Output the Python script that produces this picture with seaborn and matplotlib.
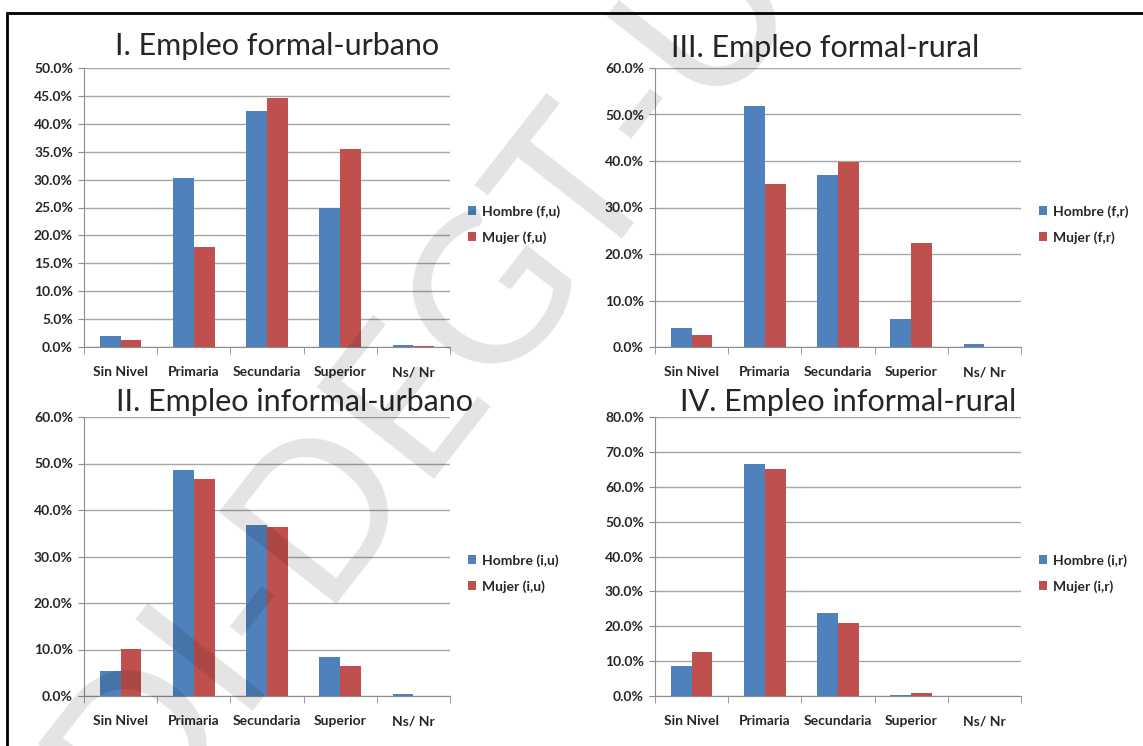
import matplotlib
matplotlib.use("Agg")
import matplotlib.pyplot as plt
import seaborn as sns
import pandas as pd
from matplotlib.patches import Rectangle
from matplotlib.ticker import FuncFormatter, FixedLocator

sns.set_style("white")
plt.rcParams['font.family'] = ['Lato', 'DejaVu Sans']
plt.rcParams['font.weight'] = 'bold'

niveles = ['Sin Nivel', 'Primaria', 'Secundaria', 'Superior', 'Ns/ Nr']

# I. formal-urbano
hombre_fu = [1.9, 30.2, 42.3, 25.0, 0.3]
mujer_fu = [1.2, 18.0, 44.7, 35.5, 0.2]
# III. formal-rural
hombre_fr = [4.1, 51.8, 37.0, 6.1, 0.6]
mujer_fr = [2.6, 35.0, 39.8, 22.3, 0.0]
# II. informal-urbano
hombre_iu = [5.3, 48.7, 36.8, 8.3, 0.4]
mujer_iu = [10.1, 46.6, 36.3, 6.5, 0.1]
# IV. informal-rural
hombre_ir = [8.5, 66.5, 23.7, 0.3, 0.0]
mujer_ir = [12.7, 65.0, 20.8, 1.0, 0.0]

azul = '#4F81BD'
rojo = '#C0504D'

W, H = 1143, 746
fig = plt.figure(figsize=(W / 100, H / 100), dpi=100)

# marco negro
fig.patches.append(Rectangle((7 / W, -0.01), 1.02, (H - 13) / H + 0.01,
                             transform=fig.transFigure, fill=False,
                             edgecolor='black', linewidth=2))

# titulo, hombre, mujer, sufijo, ymax, paso, x0, y0, titulo_x, titulo_pad
paneles = [
    ('I. Empleo formal-urbano', hombre_fu, mujer_fu, '(f,u)', 50, 5, 84, 68, 0.527, 9),
    ('III. Empleo formal-rural', hombre_fr, mujer_fr, '(f,r)', 60, 10, 655, 68, 0.464, 8),
    ('II. Empleo informal-urbano', hombre_iu, mujer_iu, '(i,u)', 60, 10, 84, 417, 0.574, 4),
    ('IV. Empleo informal-rural', hombre_ir, mujer_ir, '(i,r)', 80, 10, 655, 417, 0.527, 4),
]

for titulo, h, m, suf, ymax, paso, x0, y0, tx, tpad in paneles:
    ax = fig.add_axes([x0 / W, (H - y0 - 279) / H, 366 / W, 279 / H])
    df = pd.DataFrame({
        'nivel': niveles * 2,
        'valor': h + m,
        'sexo': ['Hombre ' + suf] * 5 + ['Mujer ' + suf] * 5,
    })
    sns.barplot(data=df, x='nivel', y='valor', hue='sexo', ax=ax,
                palette=[azul, rojo], width=0.57, saturation=1,
                linewidth=0, zorder=3)
    ax.set_ylim(0, ymax)
    ax.set_xlim(-0.5, 4.5)
    ax.set_yticks(range(0, ymax + 1, paso))
    ax.yaxis.set_major_formatter(FuncFormatter(lambda v, p: f'{v:.1f}%'))
    ax.grid(axis='y', color='#a6a6a6', linewidth=1, zorder=0)
    ax.set_axisbelow(True)
    for s in ['top', 'right']:
        ax.spines[s].set_visible(False)
    for s in ['left', 'bottom']:
        ax.spines[s].set_color('#8c8c8c')
    ax.tick_params(axis='x', length=0, pad=14, labelsize=10)
    ax.tick_params(axis='y', length=4, color='#8c8c8c', pad=4, direction='out',
                   left=True, labelsize=10)
    ax.xaxis.set_minor_locator(FixedLocator([-0.5, 0.5, 1.5, 2.5, 3.5, 4.5]))
    ax.tick_params(axis='x', which='minor', length=5, color='#8c8c8c', bottom=True)
    ax.set_xlabel('')
    ax.set_ylabel('')
    ax.set_title(titulo, fontsize=22, fontweight='normal', x=tx, pad=tpad)
    ax.legend(loc='center left', bbox_to_anchor=(1.015, 0.44), frameon=False,
              handlelength=0.6, handleheight=0.6, handletextpad=0.4,
              labelspacing=0.95, prop={'size': 10, 'weight': 'bold'})

# marca de agua
fig.text(0.37, 0.5, 'IDI-DEGT-UI', fontsize=150, fontweight='normal',
         color='black', alpha=0.11, rotation=52, ha='center', va='center',
         zorder=10)

fig.savefig('out.png', dpi=100)
